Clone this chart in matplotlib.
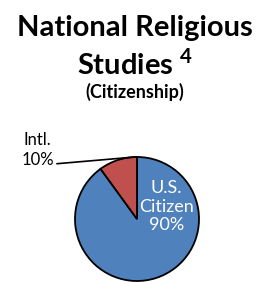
import matplotlib
matplotlib.use("Agg")
import matplotlib.pyplot as plt

labels = ["U.S.\nCitizen", "Intl."]
shares = [90, 10]
colors = ["#4F81BD", "#C0504D"]

plt.rcParams['font.family'] = ['Lato', 'DejaVu Sans']
plt.rcParams['mathtext.fontset'] = 'custom'
plt.rcParams['mathtext.bf'] = 'Lato:bold'
plt.rcParams['mathtext.rm'] = 'Lato'

fig = plt.figure(figsize=(2.6, 2.82), dpi=100)

# pie centred at about (137, 219) px, radius ~62 px
ax = fig.add_axes([(137 - 62) / 260, (282 - 219 - 62) / 282, 124 / 260, 124 / 282])
wedges, _ = ax.pie(shares, colors=colors, startangle=90, counterclock=False,
                   wedgeprops=dict(edgecolor="black", linewidth=1.3))
ax.set_aspect("equal")
ax.set_xlim(-1, 1)
ax.set_ylim(-1, 1)
ax.axis("off")

ax.text(0.47, 0.2, f"{labels[0]}\n{shares[0]}%", color="white", ha="center",
        va="center", fontsize=13, linespacing=1.2)

ax.annotate(f"{labels[1]}\n{shares[1]}%", xy=(-0.03, 1.0), xycoords="data",
            xytext=(-1.6, 1.11), textcoords="data", ha="center", va="center",
            fontsize=12, linespacing=1.3, annotation_clip=False,
            arrowprops=dict(arrowstyle="-", color="black", lw=1.2,
                            shrinkA=0, shrinkB=0, relpos=(1.05, 0.12)))

fig.text(0.52, 0.9, "National Religious", ha="center", va="center",
         fontsize=21, fontweight="bold")
fig.text(0.52, 0.772, r"Studies $^{\mathbf{4}}$", ha="center", va="center",
         fontsize=21, fontweight="bold")
fig.text(0.52, 0.674, "(Citizenship)", ha="center", va="center",
         fontsize=13, fontweight="bold")

fig.savefig("out.png", dpi=100)
